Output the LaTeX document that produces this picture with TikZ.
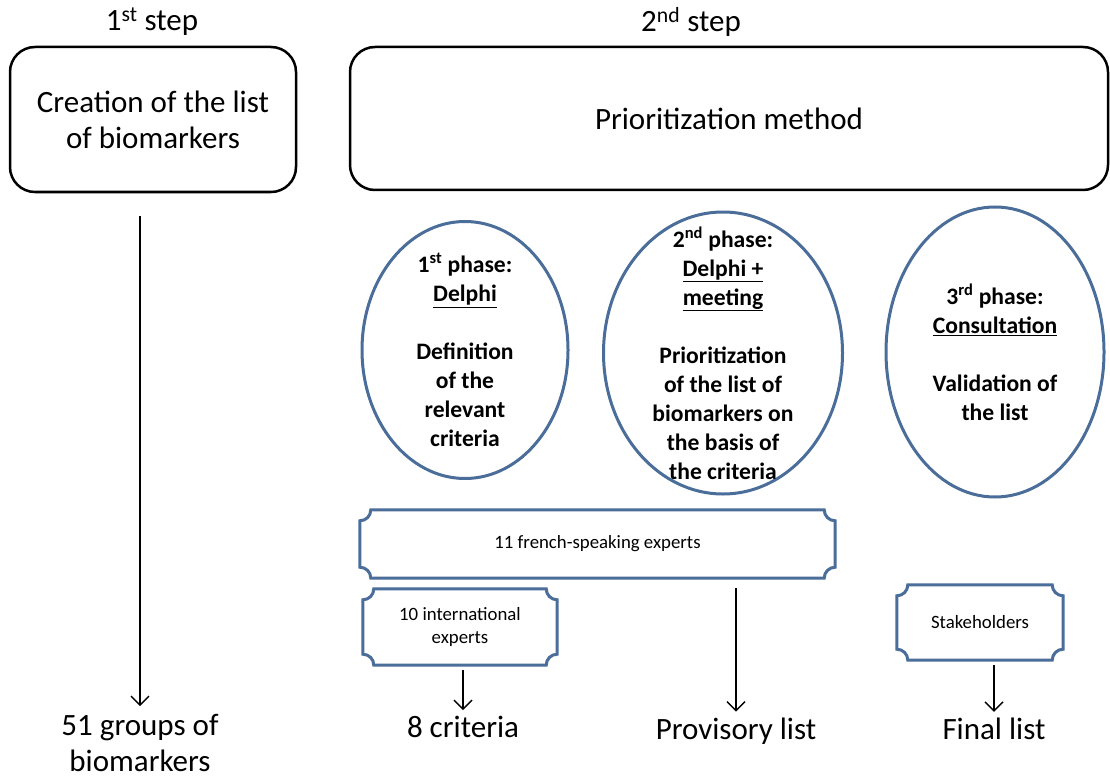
\documentclass[tikz,border=0pt]{standalone}
\usepackage{fontspec}
\setmainfont{Carlito}
\usetikzlibrary{arrows.meta,shapes.geometric,calc}

\definecolor{phaseblue}{HTML}{4A6D99}
\newcommand{\plaquer}{11pt}
% concave-corner frame around a named node
\newcommand{\plaque}[1]{%
  \draw[plaqueline] let \p1=(#1.south west), \p2=(#1.north east) in
    (\x1+\plaquer,\y1) -- (\x2-\plaquer,\y1)
    arc[start angle=180,end angle=90,radius=\plaquer] -- (\x2,\y2-\plaquer)
    arc[start angle=270,end angle=180,radius=\plaquer] -- (\x1+\plaquer,\y2)
    arc[start angle=0,end angle=-90,radius=\plaquer] -- (\x1,\y1+\plaquer)
    arc[start angle=90,end angle=0,radius=\plaquer] -- cycle;}

\tikzset{
  stepbox/.style={draw, line width=2.5pt, rounded corners=25pt, inner sep=0pt,
    align=center, font=\fontsize{31}{36}\selectfont},
  steptitle/.style={inner sep=0pt, font=\fontsize{31}{36}\selectfont},
  phase/.style={ellipse, draw=phaseblue, line width=3pt, inner sep=0pt},
  phasetext/.style={inner sep=0pt, align=center, font=\fontsize{23.6}{29}\selectfont\bfseries},
  plaquetext/.style={inner sep=0pt, align=center, font=\fontsize{18.8}{23}\selectfont},
  plaqueline/.style={draw=phaseblue, line width=3pt},
  result/.style={inner sep=0pt, align=center, font=\fontsize{31}{36}\selectfont},
  flow/.style={-{Straight Barb[length=9pt,width=18pt]}, line width=1.4pt},
}

\begin{document}
\begin{tikzpicture}[x=1pt,y=-1pt]
    \useasboundingbox (0,0) rectangle (1110,778);

    % steps
    \node[steptitle] (stepone) at (152,22) {1\textsuperscript{st} step};
    \node[steptitle] (steptwo) at (691,22) {2\textsuperscript{nd} step};
    \node[stepbox, minimum width=286pt, minimum height=145pt] (creation) at (153,119.5)
        {Creation of the list\\of biomarkers};
    \node[stepbox, minimum width=758pt, minimum height=143pt] (method) at (729,118.5)
        {Prioritization method};

    % phases
    \node[phase, minimum width=206pt, minimum height=257pt] (phaseone) at (465,350) {};
    \node[phase, minimum width=239pt, minimum height=282pt] (phasetwo) at (723,353) {};
    \node[phase, minimum width=218pt, minimum height=290pt] (phasethree) at (995,352) {};
    \node[phasetext] (phaseonetext) at (phaseone.center)
        {1\textsuperscript{st} phase:\\\underline{Delphi}\\[29pt]Definition\\of the\\relevant\\criteria};
    \node[phasetext] (phasetwotext) at (phasetwo.center)
        {2\textsuperscript{nd} phase:\\\underline{Delphi +}\\\underline{meeting}\\[29pt]Prioritization\\of the list of\\biomarkers on\\the basis of\\the criteria};
    \node[phasetext] (phasethreetext) at (phasethree.center)
        {3\textsuperscript{rd} phase:\\\underline{Consultation}\\[29pt]Validation of\\the list};

    % experts
    \node[plaquetext, minimum width=475pt, minimum height=68pt] (french) at (597.5,544)
        {11 french-speaking experts};
    \node[plaquetext, minimum width=194pt, minimum height=76pt] (intl) at (460,627)
        {10 international\\experts};
    \node[plaquetext, minimum width=166pt, minimum height=75pt] (stake) at (980,622.5)
        {Stakeholders};
    \plaque{french}
    \plaque{intl}
    \plaque{stake}

    % results
    \node[result] (groups) at (140,743) {51 groups of\\biomarkers};
    \node[result] (crit) at (463,727) {8 criteria};
    \node[result] (provlist) at (736,731) {Provisory list};
    \node[result] (finallist) at (994,729) {Final list};

    \draw[flow, shorten <=23pt, shorten >=8pt] (creation.south -| groups.north) -- (groups.north);
    \draw[flow, shorten <=5pt, shorten >=6pt] (intl.south -| crit.north) -- (crit.north);
    \draw[flow, shorten <=10pt, shorten >=6pt] (french.south -| provlist.north) -- (provlist.north);
    \draw[flow, shorten <=5pt, shorten >=6pt] (stake.south -| finallist.north) -- (finallist.north);
\end{tikzpicture}
\end{document}
